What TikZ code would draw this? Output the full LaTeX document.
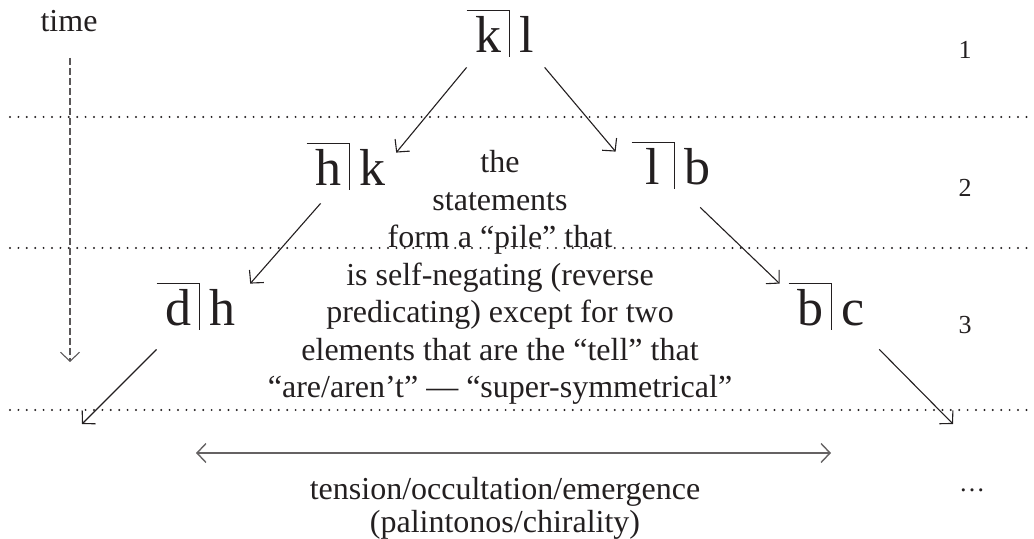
\documentclass[tikz,border=0pt]{standalone}
\usepackage{fontspec}
\setmainfont{Liberation Serif}
\usetikzlibrary{arrows.meta,positioning}
\definecolor{ink}{RGB}{35,31,32}

\begin{document}
\begin{tikzpicture}[x=0.5pt,y=-0.5pt,
  every node/.style={text=ink},
  crossbox/.style={font=\fontsize{26}{30}\selectfont,text height=19pt,text depth=0pt,inner xsep=0pt,inner ysep=2pt,minimum width=21pt},
  letter/.style={font=\fontsize{26}{30}\selectfont,text height=19pt,text depth=0pt,inner xsep=5pt,inner ysep=2pt},
  crossline/.style={draw=ink,line width=0.8pt},
  flow/.style={draw=ink,line width=0.55pt,-{Straight Barb[length=4.5pt,width=9.5pt]}},
  sep/.style={draw=ink,line width=1.1pt,line cap=round,dash pattern=on 0pt off 4.2pt},
  body/.style={font=\fontsize{16}{18.75}\selectfont,align=center,inner sep=0pt},
  level/.style={font=\fontsize{13}{15}\selectfont,inner sep=0pt}]
\useasboundingbox (0,0) rectangle (1034,539);

\foreach \y in {117,248,410} \draw[sep] (10,\y) -- (1034,\y);

\node[body,anchor=base] (time) at (69,32) {time};
\coordinate (timeend) at (70,362);
\draw[draw=ink!75,line width=0.55pt,dash pattern=on 3.5pt off 1.5pt,-{Straight Barb[length=4.5pt,width=9.5pt]}] ([xshift=0.5pt,yshift=-13pt]time.base) -- (timeend);

\node[level,anchor=base] (one) at (965,59) {1};
\node[level,anchor=base] (two) at (965,197) {2};
\node[level,anchor=base] (three) at (965,334) {3};
\node[level,anchor=base] (more) at (972,492) {\ldots};

\node[crossbox,anchor=base] (kl) at (488,53) {k};
\node[letter,right=0pt of kl] (kl-r) {l};
\node[crossbox,anchor=base] (hk) at (328,186) {h};
\node[letter,right=0pt of hk] (hk-r) {k};
\node[crossbox,anchor=base] (lb) at (653,185) {l};
\node[letter,right=0pt of lb] (lb-r) {b};
\node[crossbox,anchor=base] (dh) at (178,326) {d};
\node[letter,right=0pt of dh] (dh-r) {h};
\node[crossbox,anchor=base] (bc) at (810,326) {b};
\node[letter,right=0pt of bc] (bc-r) {c};
\foreach \n in {kl,hk,lb,dh,bc} \draw[crossline] (\n.north west) -| (\n.south east);

\draw[flow] ([yshift=-5pt]kl.south west) -- ([yshift=-4.5pt]hk-r.north east);
\draw[flow] ([yshift=-5pt]kl-r.south east) -- ([xshift=-8pt,yshift=-4.5pt]lb.north west);
\draw[flow] ([xshift=7pt,yshift=-6.5pt]hk.south west) -- ([xshift=2pt]dh-r.north east);
\draw[flow] ([xshift=-10.5pt,yshift=-9pt]lb-r.south east) -- ([xshift=-4.5pt]bc.north west);
\coordinate (dhend) at (82,424);
\coordinate (bcend) at (953,424);
\draw[flow] ([yshift=-9.5pt]dh.south west) -- (dhend);
\draw[flow] ([xshift=2pt,yshift=-9.5pt]bc-r.south east) -- (bcend);

\node[body,anchor=base] (pile) at (500,398) {the\\statements\\form a “pile” that\\is self-negating (reverse\\predicating) except for two\\elements that are the “tell” that\\“are/aren’t” — “super-symmetrical”};

\coordinate (tensionl) at (196,453);
\coordinate (tensionr) at (831,453);
\draw[draw=ink!70,line width=0.7pt,{Straight Barb[length=4.5pt,width=9.5pt]}-{Straight Barb[length=4.5pt,width=9.5pt]}] (tensionl) -- (tensionr);
\node[body,font=\fontsize{16}{17}\selectfont,anchor=base] (tension) at (505,533) {tension/occultation/emergence\\(palintonos/chirality)};
\end{tikzpicture}
\end{document}
